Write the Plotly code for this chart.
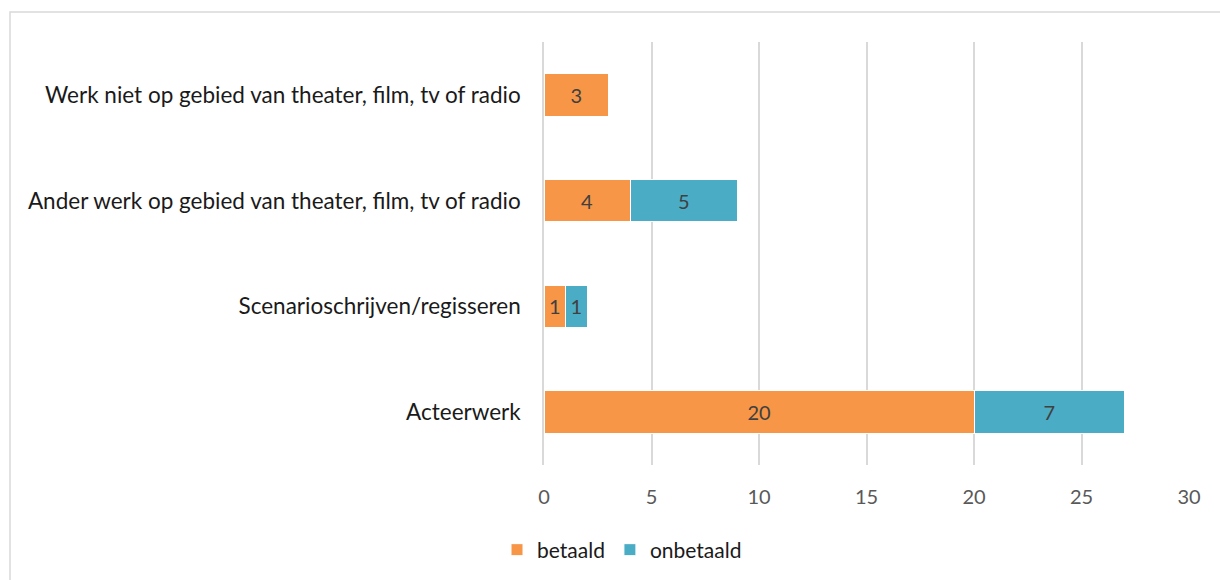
import plotly.graph_objects as go

categories = [
    "Acteerwerk",
    "Scenarioschrijven/regisseren",
    "Ander werk op gebied van theater, film, tv of radio",
    "Werk niet op gebied van theater, film, tv of radio",
]
betaald = [20, 1, 4, 3]
onbetaald = [7, 1, 5, None]
x_ticks = [0, 5, 10, 15, 20, 25, 30]

FONT = "Lato, Calibri, Carlito, sans-serif"

W, H = 1220, 580
L, R, T, B = 544, 31, 42, 115
pw, ph = W - L - R, H - T - B

fig = go.Figure()
for name, vals, color in [("betaald", betaald, "#F79646"), ("onbetaald", onbetaald, "#4BACC6")]:
    fig.add_trace(go.Bar(
        name=name, y=categories, x=vals, orientation="h",
        marker=dict(color=color, line=dict(color="white", width=1)),
        width=0.4,
        text=[("" if v is None else str(v)) for v in vals],
        textposition="inside", insidetextanchor="middle",
        textfont=dict(family=FONT, size=20, color="#404040"),
        hoverinfo="skip", cliponaxis=False,
    ))

def px_to_paper_x(p):
    return (p - L) / pw

def px_to_paper_y(p):
    return (H - B - p) / ph

fig.add_shape(type="rect", xref="paper", yref="paper",
              x0=px_to_paper_x(10), x1=px_to_paper_x(1232),
              y0=px_to_paper_y(592), y1=px_to_paper_y(12),
              line=dict(color="#d9d9d9", width=1.5), fillcolor="rgba(0,0,0,0)", layer="below")

fig.update_layout(
    width=W, height=H,
    margin=dict(l=L, r=R, t=T, b=B, autoexpand=False),
    barmode="stack",
    plot_bgcolor="white", paper_bgcolor="white",
    font=dict(family=FONT, size=20, color="#595959"),
    showlegend=True,
    legend=dict(orientation="h", x=px_to_paper_x(622), xanchor="center",
                y=px_to_paper_y(550), yanchor="middle",
                font=dict(family=FONT, size=21, color="#1a1a1a"),
                traceorder="normal", itemwidth=30, tracegroupgap=0),
    xaxis=dict(range=[0, 30], tickvals=x_ticks, showgrid=True, gridcolor="#d9d9d9",
               gridwidth=1.5, zeroline=False, showline=False,
               tickfont=dict(family=FONT, size=20, color="#595959"),
               ticklabelstandoff=18, fixedrange=True),
    yaxis=dict(categoryorder="array", categoryarray=categories, range=[-0.5, 3.5],
               showgrid=False, zeroline=False, showline=True, linecolor="#d9d9d9", linewidth=1.5,
               tickfont=dict(family=FONT, size=22.5, color="#1a1a1a"),
               ticklabelstandoff=17, fixedrange=True),
    bargap=0.6,
)

fig.write_html("out.html", config={"displayModeBar": False},
               post_script="document.body.style.margin='0';document.body.style.overflow='hidden';")
